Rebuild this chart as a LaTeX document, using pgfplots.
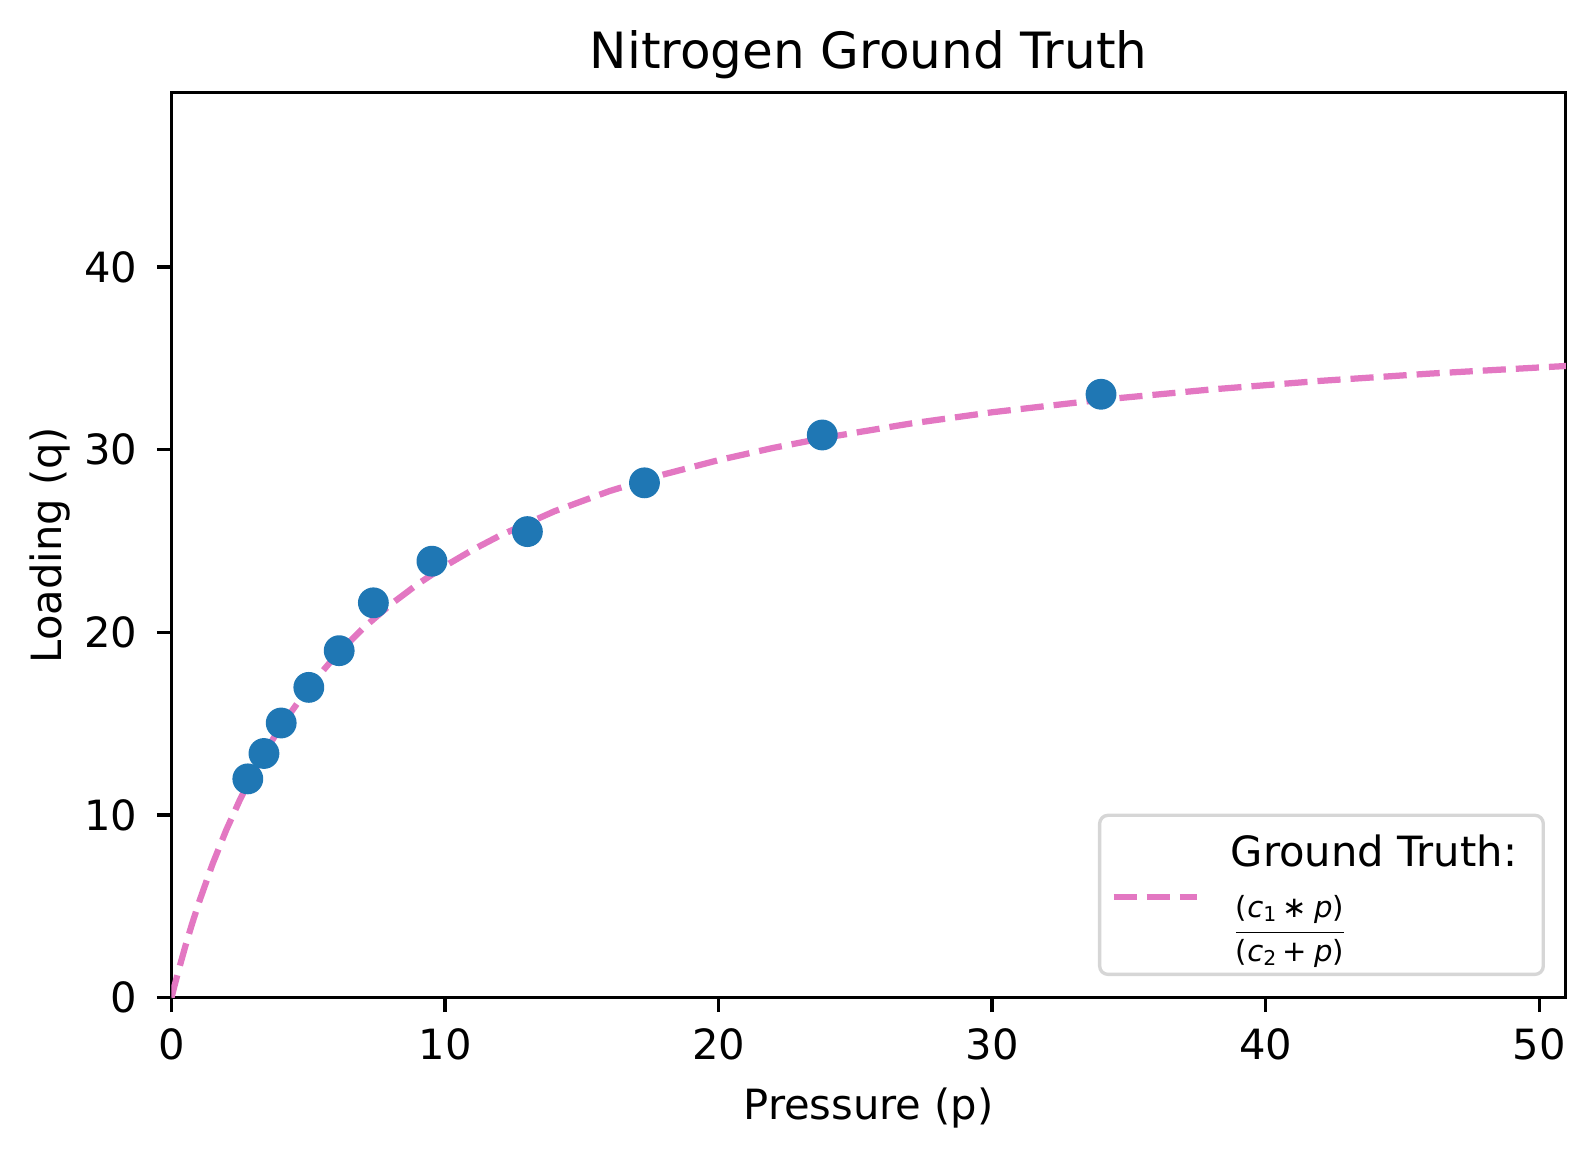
\documentclass[border=0pt]{standalone}
\usepackage{fontspec}
\setmainfont{DejaVu Sans}
\usepackage{pgfplots}
\pgfplotsset{compat=1.18}

\definecolor{tabblue}{HTML}{1F77B4}
\definecolor{tabpink}{HTML}{E377C2}

% legend fraction, set like matplotlib mathtext
\newcommand{\sub}[1]{\raisebox{-1.1pt}{\fontsize{4.9}{5}\selectfont #1}}
\newcommand{\fnum}{\fontsize{7}{8}\selectfont(\textit{c}\sub{1}\hspace{1.6pt}∗\hspace{1.6pt}\textit{p})}
\newcommand{\fden}{\fontsize{7}{8}\selectfont(\textit{c}\sub{2}\hspace{1.6pt}+\hspace{1.6pt}\textit{p})}

\begin{document}
\begin{tikzpicture}
\useasboundingbox (-41.16pt,-38.47pt) rectangle (341.64pt,239.44pt);
\begin{axis}[
  scale only axis,
  width=334.63pt,height=217.22pt,
  xmin=0,xmax=50.97,ymin=0,ymax=49.56,
  xtick={0,10,...,50},ytick={0,10,...,40},
  tick pos=left,tick align=outside,
  major tick length=3.5pt,
  every tick/.style={black,line width=0.8pt},
  axis line style={line width=0.8pt},
  /pgf/number format/assume math mode=true,
  ticklabel style={font=\fontsize{10}{12}\selectfont},
  xticklabel style={anchor=base,inner sep=0pt,yshift=-11.4pt},
  yticklabel style={anchor=east,inner sep=0pt,xshift=-4.5pt},
  title={Nitrogen Ground Truth},
  every axis title/.style={at={(rel axis cs:0.5,1.0267)},anchor=base,inner sep=0pt,font=\fontsize{12}{14.4}\selectfont},
  xlabel={Pressure (p)},
  every axis x label/.style={at={(rel axis cs:0.5,0)},anchor=base,yshift=-29.3pt,inner sep=0pt},
  ylabel={Loading (q)},
  every axis y label/.style={at={(rel axis cs:0,0.5)},xshift=-26.3pt,rotate=90,anchor=base,inner sep=0pt},
  legend image code/.code={\draw[#1] (0pt,-7.4pt) -- (20pt,-7.4pt);},
  legend style={at={(rel axis cs:0.98506,0.0239)},anchor=south east,
    draw=black!16,line width=0.8pt,rounded corners=2pt,
    inner xsep=2.6pt,inner ysep=3.8pt,
    nodes={inner sep=0pt,text depth={},text height={},anchor=base west},
    cells={anchor=base west},column sep=7.4pt,
    font=\fontsize{10}{12}\selectfont},
]
\addplot[only marks,mark=*,mark size=3.5pt,color=tabblue,
  mark options={fill=tabblue,draw=none},forget plot] coordinates {
 (2.79,11.98) (3.38,13.37) (4.01,15.04) (5.02,16.99) (6.13,19.00)
 (7.38,21.62) (9.52,23.90) (13.01,25.52) (17.29,28.19) (23.79,30.81)
 (33.98,33.04)
};
\addplot[color=tabpink,line width=1.5pt,dash pattern=on 5.55pt off 2.4pt] coordinates {
 (0,0) (0.1,0.591) (0.25,1.444) (0.5,2.786) (0.75,4.034) (1,5.2)
 (1.5,7.313) (2,9.176) (2.5,10.833) (3,12.316) (3.5,13.65) (4,14.857)
 (5,16.957) (6,18.72) (7,20.222) (8,21.517) (9,22.645) (10,23.636)
 (11,24.514) (12,25.297) (14,26.634) (16,27.733) (18,28.653) (20,29.434)
 (22,30.105) (24,30.689) (27,31.433) (30,32.055) (34,32.741) (38,33.303)
 (42,33.773) (46,34.171) (51,34.591)
};
\addlegendentry{\begin{tabular}[t]{@{}l@{\hspace{3.7pt}}}Ground Truth:\\[3.3pt]\raisebox{0pt}[\height][\dimexpr\depth-2.1pt\relax]{$\frac{\mbox{\rule[-3.1pt]{0pt}{3.1pt}\fnum}}{\mbox{\rule{0pt}{6.3pt}\fden}}$}\end{tabular}}
\end{axis}
\end{tikzpicture}
\end{document}
